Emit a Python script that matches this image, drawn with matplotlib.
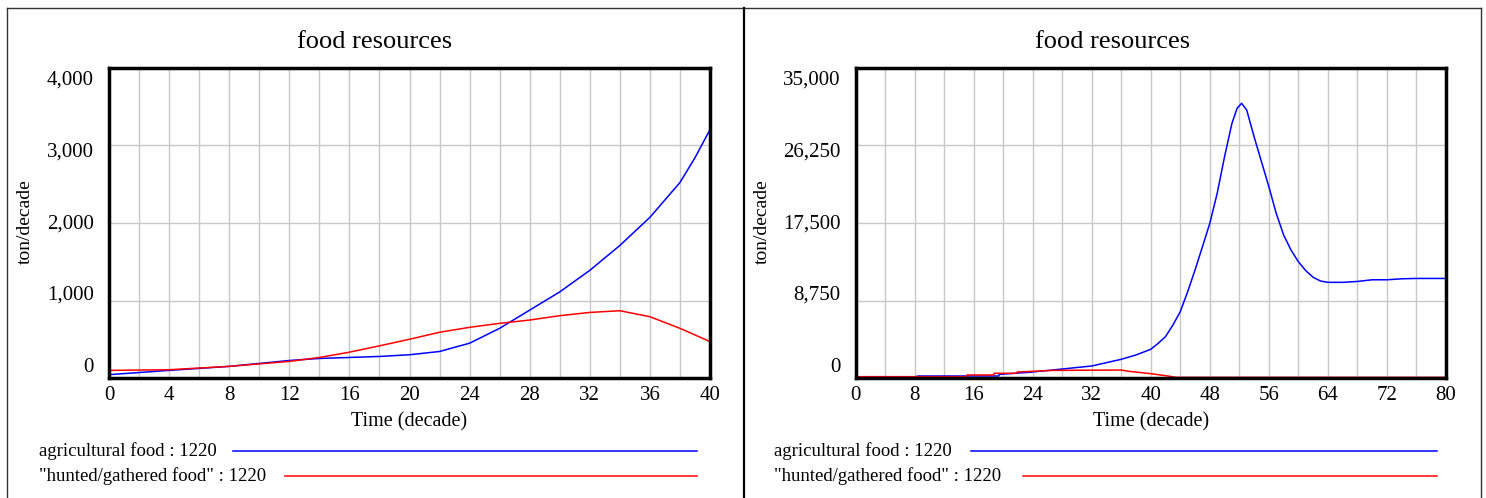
import numpy as np
import matplotlib
matplotlib.use("Agg")
import matplotlib.pyplot as plt
from matplotlib.lines import Line2D

plt.rcParams['font.family'] = ['Liberation Serif', 'DejaVu Serif']

# left run: time 0..40 decades
t_left = [0, 4, 8, 12, 14, 16, 18, 20, 22, 24, 26, 28, 30, 32, 34, 36, 38, 39, 40]
agri_left = [43, 98, 150, 226, 252, 265, 278, 300, 342, 449, 641, 876, 1111, 1389,
             1710, 2073, 2522, 2842, 3205]
t_left_h = [0, 4, 8, 12, 14, 16, 18, 20, 22, 24, 26, 28, 30, 32, 34, 36, 38, 40]
hunt_left = [98, 107, 150, 214, 265, 333, 415, 500, 590, 654, 705, 748, 804, 846,
             868, 791, 641, 470]

# right run: time 0..80 decades
t_right = [0, 8, 8.5, 19.4, 19.5, 23.5, 28, 32, 36, 38, 40, 41, 42, 43, 44, 45, 46,
           47, 48, 49, 50, 51, 51.7, 52.3, 53, 54, 55, 56, 57, 58, 59, 60, 61, 62,
           63, 64, 66, 68, 70, 72, 74, 76, 80]
agri_right = [113, 113, 226, 226, 412, 640, 1015, 1355, 2110, 2600, 3240, 3910, 4670,
              5980, 7490, 9740, 12190, 14810, 17460, 20850, 24990, 28750, 30450,
              31010, 30260, 27240, 24420, 21600, 18590, 16150, 14450, 13130, 12120,
              11370, 10950, 10800, 10800, 10900, 11090, 11090, 11200, 11240, 11240]
t_right_h = [0, 15, 15.1, 18.7, 18.8, 21.8, 21.9, 26.8, 36, 37, 40, 42, 43.5, 80]
hunt_right = [150, 150, 340, 340, 530, 530, 677, 860, 900, 760, 490, 263, 75, 75]

left_yticks = [0, 1000, 2000, 3000, 4000]
right_yticks = [0, 8750, 17500, 26250, 35000]
left_xticks = list(range(0, 41, 4))
right_xticks = list(range(0, 81, 8))

series_names = ['agricultural food : 1220', '"hunted/gathered food" : 1220']
BLUE = '#0000ff'
RED = '#ff0000'

W, H = 1486, 498
fig = plt.figure(figsize=(W / 100, H / 100), dpi=100)


def px(x, y):
    return x / W, 1 - y / H


def draw_panel(rect, xmax, xticks, yticks, agri, hunt, tx_a, tx_h, panel_x0, panel_x1):
    ax = fig.add_axes(rect)
    ax.plot(tx_a, agri, color=BLUE, lw=1.1)
    ax.plot(tx_h, hunt, color=RED, lw=1.1)
    ax.set_xlim(0, xmax)
    ax.set_ylim(yticks[0], yticks[-1])
    ax.set_xticks(xticks)
    ax.set_xticks(np.arange(0, xmax + 0.01, xmax / 20), minor=True)
    ax.set_yticks(yticks)
    ax.set_yticklabels([])
    ax.grid(True, which='both', axis='x', color='#c8c8c8', lw=1)
    ax.grid(True, which='major', axis='y', color='#c8c8c8', lw=1)
    ax.tick_params(which='both', length=0, labelsize=15, pad=6)
    for s in ax.spines.values():
        s.set_linewidth(2.5)
    # spread y labels like the original (Vensim style)
    for i, v in enumerate(yticks):
        frac = 0.035 + i / (len(yticks) - 1) * 0.926
        ax.annotate(f"{v:,}", xy=(0, frac), xycoords='axes fraction',
                    xytext=(-11, 0), textcoords='offset points',
                    ha='right', va='center', fontsize=15)
    ax.set_xlabel('Time (decade)', fontsize=14.5, labelpad=5)
    fig.text(*px((panel_x0 + panel_x1) / 2, 42), 'food resources', ha='center',
             va='center', fontsize=19)
    fig.text(*px(panel_x0 + 18, 222), 'ton/decade', rotation=90, ha='center',
             va='center', fontsize=14)
    return ax


draw_panel([px(109, 0)[0], px(0, 378)[1], (710 - 109) / W, 310 / H], 40,
           left_xticks, left_yticks, agri_left, hunt_left, t_left, t_left_h, 7, 743)
draw_panel([px(855.5, 0)[0], px(0, 378)[1], (1446 - 855.5) / W, 310 / H], 80,
           right_xticks, right_yticks, agri_right, hunt_right, t_right, t_right_h,
           744, 1481)

# legends below each panel
legend_rows = [(451, BLUE), (476, RED)]
for x_text, x_starts, x_end in [(39, [233, 285], 697), (774, [971, 1023], 1437)]:
    for (yy, col), name, xs in zip(legend_rows, series_names, x_starts):
        fig.text(*px(x_text, yy), name, ha='left', va='center', fontsize=13.5)
        fig.add_artist(Line2D([xs / W, x_end / W], [px(0, yy)[1]] * 2,
                              color=col, lw=1.1))

# panel frames
fig.add_artist(Line2D([7 / W, 1481 / W], [px(0, 8)[1]] * 2, color='#333333', lw=1))
fig.add_artist(Line2D([7.5 / W] * 2, [px(0, 8)[1], 0], color='#333333', lw=1))
fig.add_artist(Line2D([1481 / W] * 2, [px(0, 8)[1], 0], color='#333333', lw=1))
fig.add_artist(Line2D([744 / W] * 2, [px(0, 8)[1], 0], color='black', lw=1.6))

fig.savefig('out.png', dpi=100)
